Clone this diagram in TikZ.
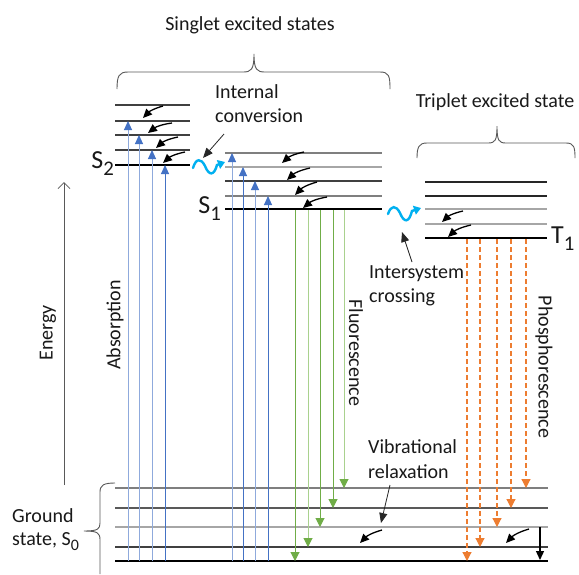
\documentclass[tikz,border=0pt]{standalone}
\usepackage{fontspec}
\setmainfont{Carlito}
\usetikzlibrary{arrows.meta}
\definecolor{oblue}{HTML}{4472C4}
\definecolor{lblue}{HTML}{8FAADC}
\definecolor{ogreen}{HTML}{70AD47}
\definecolor{lgreen}{HTML}{A9D18E}
\definecolor{oorange}{HTML}{ED7D31}
\definecolor{wavec}{HTML}{00B0F0}
\definecolor{g1}{HTML}{404040}
\definecolor{g2}{HTML}{7F7F7F}
\definecolor{g3}{HTML}{A6A6A6}
\definecolor{g4}{HTML}{595959}
\newcommand\lsub[1]{\raisebox{-0.28em}{\scalebox{0.8}{#1}}}
\begin{document}
\begin{tikzpicture}[x=1pt,y=-1pt,
  txt/.style={font=\fontsize{20}{24}\selectfont, inner sep=0pt, text=black!90},
  big/.style={font=\fontsize{26}{30}\selectfont, inner sep=0pt, text=black!90},
  lvl/.style={line width=1.3pt},
  ground/.style={line width=2pt, black},
  absarrow/.style={line width=1pt, -{Triangle[width=8pt,length=9pt,color=oblue]}},
  fluarrow/.style={line width=1pt, -{Triangle[width=9pt,length=9pt,color=ogreen]}},
  phoarrow/.style={line width=1.2pt, oorange, dash pattern=on 5pt off 3pt, -{Triangle[width=9pt,length=9pt,color=oorange]}},
  vrarrow/.style={line width=1.3pt, black, -{Triangle[width=8pt,length=9pt]}},
  labarrow/.style={line width=0.8pt, black!85, -{Triangle[width=8pt,length=10pt]}},
  wavearrow/.style={line width=2.4pt, wavec, line cap=round, -{Triangle[width=9pt,length=7pt,color=wavec]}},
  brace/.style={line width=0.9pt, g4},
]
\useasboundingbox[fill=white] (0,0) rectangle (579,574);

% ---- titles and braces
\node[txt, anchor=base] (singlet) at (250,30) {Singlet excited states};
\draw[brace] (117,89) .. controls (117,76) and (119,72) .. (128,72) -- (243,72)
  .. controls (251,72) and (254,70) .. (254,54)
  .. controls (254,70) and (257,72) .. (265,72) -- (380,72)
  .. controls (389,72) and (390,76) .. (390,89);
\node[txt, anchor=base] (triplet) at (495,107) {Triplet excited state};
\draw[brace] (417,158) .. controls (417,147) and (419,143) .. (427,143) -- (488,143)
  .. controls (495,143) and (497,141) .. (497,126)
  .. controls (497,141) and (499,143) .. (506,143) -- (566,143)
  .. controls (574,143) and (575,147) .. (575,158);

% ---- S2 levels
\draw[lvl, g1] (115,105) -- (190,105);
\draw[lvl, g1] (115,121) -- (190,121);
\draw[lvl, g1] (115,135) -- (190,135);
\draw[lvl, g1] (115,150) -- (190,150);
\draw[ground] (115,165) -- (190,165);
\node[big, anchor=base east] (s2) at (114,168) {S\lsub{2}};

% ---- S1 levels
\draw[lvl, g2] (225,153) -- (382,153);
\draw[lvl, g3] (225,167) -- (382,167);
\draw[lvl, g1] (225,181) -- (382,181);
\draw[lvl, g2] (225,196) -- (382,196);
\draw[ground] (225,209) -- (382,209);
\node[big, anchor=base east] (s1) at (221,213) {S\lsub{1}};

% ---- T1 levels
\draw[lvl, black!85] (425,182) -- (547,182);
\draw[lvl, black!85] (425,196) -- (547,196);
\draw[lvl, g3] (425,209) -- (547,209);
\draw[lvl, g3] (425,224) -- (547,224);
\draw[ground] (425,238) -- (547,238);
\node[big, anchor=base west] (t1) at (551,243) {T\lsub{1}};

% ---- ground state levels
\draw[lvl, g2] (115,488) -- (548,488);
\draw[lvl, g4] (115,508) -- (548,508);
\draw[lvl, g3] (115,527) -- (548,527);
\draw[line width=1.8pt, g1] (115,547) -- (548,547);
\draw[ground] (115,561) -- (548,561);
\draw[brace] (115,483) .. controls (104,483) and (100,485) .. (100,492) -- (100,523)
  .. controls (100,529) and (98,531) .. (84,531)
  .. controls (98,531) and (100,533) .. (100,540) -- (100,574);
\node[txt, anchor=base west] (gs1) at (12,522) {Ground};
\node[txt, anchor=base west] (gs2) at (12,545) {state, S\lsub{0}};

% ---- energy axis
\draw[line width=0.8pt, g4, -{Straight Barb[length=6pt,width=12pt]}] (64,485) -- (64,182);
\node[txt, rotate=90] (energy) at (48,333) {Energy};

% ---- absorption
\foreach \x/\ty/\c in {128/121/lblue,139/135/lblue,152/150/lblue,165/165/oblue,
                       232/153/lblue,243/167/oblue,255/181/lblue,268/196/oblue}
  \draw[absarrow, draw=\c] (\x,561) -- (\x,\ty);
\node[txt, rotate=90] (absorption) at (115,325) {Absorption};

% ---- fluorescence
\foreach \x/\ty/\c in {295/561/ogreen,308/547/lgreen,320/527/ogreen,333/508/ogreen,344/488/lgreen}
  \draw[fluarrow, draw=\c] (\x,210) -- (\x,\ty);
\node[txt, rotate=-90] (fluor) at (356,353) {Fluorescence};

% ---- phosphorescence
\foreach \x/\ty in {467/561,480/547,497/527,511/508,526/488}
  \draw[phoarrow] (\x,239) -- (\x,\ty);
\node[txt, rotate=-90] (phos) at (544,367) {Phosphorescence};

% ---- vibrational relaxation arrows
\foreach \ax/\ay/\bx/\by in {163/106/143/118, 172/123/148/133, 178/137/156/148, 185/152/163/163,
   304/152/282/163, 310/168/287/180, 317/182/295/195, 327/197/303/208,
   463/211/442/222, 471/225/448/237,
   382/530/360/543, 529/529/506/543}
  \draw[vrarrow] (\ax,\ay) to[bend right=15] (\bx,\by);
\draw[vrarrow] (540,527) -- (540,560);

% ---- internal conversion
\draw[wavearrow] (193,168) .. controls (196,158) and (201,158) .. (205,166)
  .. controls (209,176) and (214,176) .. (217,165) -- (225,162);
\node[txt, anchor=base west] (ic1) at (215,98) {Internal};
\node[txt, anchor=base west] (ic2) at (215,122) {conversion};
\coordinate (ictail) at (224,134);
\coordinate (ichead) at (203,158);
\draw[labarrow] (ictail) -- (ichead);

% ---- intersystem crossing
\draw[wavearrow] (388,214) .. controls (391,205) and (396,205) .. (400,213)
  .. controls (404,223) and (409,223) .. (412,211) -- (421,208);
\node[txt, anchor=base west] (isc1) at (369,278) {Intersystem};
\node[txt, anchor=base west] (isc2) at (369,302) {crossing};
\coordinate (isctail) at (412,262);
\coordinate (ischead) at (402,232);
\draw[labarrow] (isctail) -- (ischead);

% ---- vibrational relaxation label
\node[txt, anchor=base west] (vr1) at (368,453) {Vibrational};
\node[txt, anchor=base west] (vr2) at (368,478) {relaxation};
\coordinate (vrtail) at (390,485);
\coordinate (vrhead) at (381,523);
\draw[labarrow] (vrtail) -- (vrhead);
\end{tikzpicture}
\end{document}
